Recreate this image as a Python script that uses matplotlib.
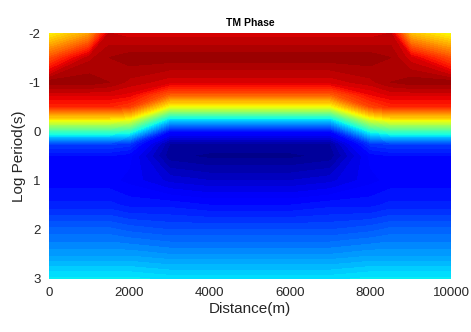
import numpy as np
import matplotlib
matplotlib.use("Agg")
import matplotlib.pyplot as plt

# station distances (m) and log10 period (s)
distance = [0, 1000, 1500, 2000, 3000, 4000, 5000, 6000, 7000, 8000, 8500, 9000, 10000]
log_period = [-2, -1.5, -1, -0.75, -0.5, -0.25, 0, 0.25, 0.5, 1, 1.5, 2, 2.5, 3]

# TM phase (degrees), one row per period
phase = [
    [58, 66, 84, 83, 83, 83, 83, 83, 83, 83, 84, 63, 57],
    [74, 85, 87, 88, 88, 88, 88, 88, 88, 88, 87, 83, 74],
    [88, 88, 87, 85, 83, 83, 83, 83, 83, 85, 87, 88, 88],
    [83, 83, 83, 82, 73, 73, 73, 73, 73, 81, 83, 83, 83],
    [78, 78, 78, 76, 57, 57, 57, 57, 57, 75, 78, 78, 78],
    [60, 60, 60, 58, 31, 31, 31, 31, 31, 56, 60, 60, 60],
    [38, 38, 38, 36, 12, 12, 12, 12, 12, 34, 38, 38, 38],
    [17, 17, 17, 16, 3, 3, 3, 3, 3, 16, 17, 17, 17],
    [12, 12, 12, 11, 2, 1, 1, 1, 2, 11, 12, 12, 12],
    [11, 11, 11, 10, 7, 6, 6, 6, 7, 10, 11, 11, 11],
    [14, 14, 14, 13, 13, 12, 12, 12, 13, 13, 14, 14, 14],
    [20, 20, 20, 19, 18, 18, 18, 18, 18, 19, 20, 20, 20],
    [25, 25, 25, 25, 24, 24, 24, 24, 24, 25, 25, 25, 25],
    [32, 32, 32, 32, 31, 31, 31, 31, 31, 32, 32, 32, 32],
]

plt.rcParams['font.family'] = ['Liberation Sans', 'DejaVu Sans']
plt.rcParams['axes.unicode_minus'] = False

fig = plt.figure(figsize=(4.71, 3.32), dpi=100)
ax = fig.add_axes([0.104, 0.16, 0.8535, 0.7406])

X, Y = np.meshgrid(distance, log_period)
levels = np.linspace(0, 90, 61)
ax.contourf(X, Y, np.array(phase), levels=levels, cmap='jet', vmin=0, vmax=90)

ax.set_xlim(0, 10000)
ax.set_ylim(3, -2)
ax.set_xticks([0, 2000, 4000, 6000, 8000, 10000])
ax.set_yticks([-2, -1, 0, 1, 2, 3])
for s in ax.spines.values():
    s.set_visible(False)
ax.tick_params(length=0, labelsize=9.5, colors='#262626', pad=6)

ax.set_xlabel('Distance(m)', fontsize=11, color='#262626', labelpad=2)
ax.set_ylabel('Log Period(s)', fontsize=11, color='#262626', labelpad=2)
ax.set_title('TM Phase', fontsize=7.5, fontweight='bold', pad=5)

fig.savefig('out.png', dpi=100)
